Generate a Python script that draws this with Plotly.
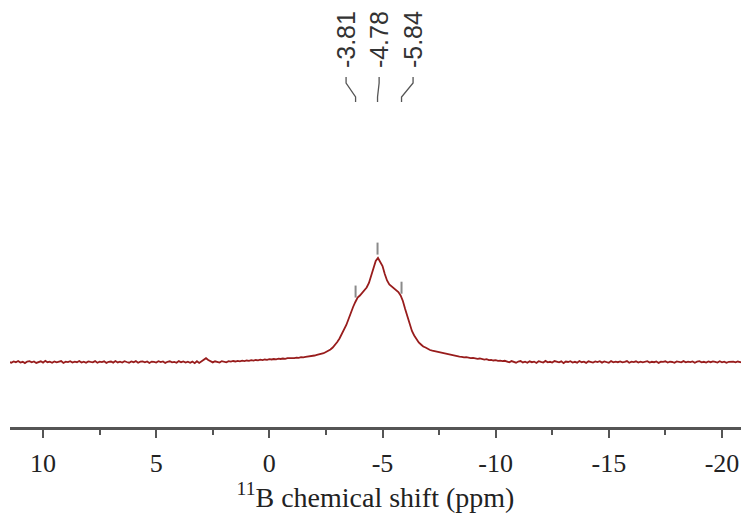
import numpy as np
import plotly.graph_objects as go

ppm_start = 11.5
ppm_step = -0.1
intensity = [
    0.3, -0.8, 0.6, -0.2, 1.0, -0.5, 0.2, -1.1, 0.4, 0.8,
    -0.3, 0.5, -0.9, 0.1, 0.7, -0.6, 1.1, -0.2, 0.3, -0.7,
    0.6, -0.4, 0.2, 0.9, -1.0, 0.3, -0.1, 0.8, -0.6, 0.4,
    -0.2, 1.0, -0.5, 0.3, -0.8, 0.6, 0.1, -0.3, 0.9, -0.7,
    0.4, -0.1, 0.7, -0.9, 0.2, 0.5, -0.6, 1.0, -0.4, 0.3,
    -0.5, 0.8, 0.0, -0.7, 0.6, -0.2, 0.9, -0.8, 0.3, 0.5,
    -0.3, 0.6, -1.0, 0.4, 0.2, -0.5, 0.8, -0.1, 0.6, -0.9,
    0.2, 0.7, -0.4, 0.1, -0.8, 0.9, -0.2, 0.5, -0.6, 0.3,
    -0.7, 0.4, -1.2, 0.8, -0.9, 0.6, 2.5, 3.8, 2.0, 0.5,
    -0.4, 0.7, 0.1, -0.6, 0.9, 0.2, -0.3, 0.8, 0.4, 1.0,
    0.5, 1.1, 0.6, 1.3, 0.9, 1.5, 1.2, 1.8, 1.4, 2.0,
    1.7, 2.3, 1.9, 2.5, 2.2, 2.8, 2.5, 3.0, 2.7, 3.3,
    3.0, 3.5, 3.2, 3.8, 3.6, 4.1, 3.9, 4.4, 4.2, 4.8,
    4.6, 5.2, 5.4, 5.9, 6.2, 6.5, 7.1, 7.6, 8.2, 8.8,
    10.0, 11.0, 12.5, 14.5, 17.0, 20.0, 23.5, 27.5, 32.0, 37.0,
    43.0, 49.5, 55.0, 60.0, 64.5, 66.5, 69.5, 72.0, 74.5, 79.0,
    86.0, 95.0, 101.0, 104.0, 100.0, 96.0, 88.0, 81.5, 77.5, 75.5,
    74.0, 72.5, 70.0, 66.5, 61.0, 53.0, 45.0, 37.0, 31.0, 26.5,
    23.0, 19.5, 17.5, 15.5, 14.5, 13.0, 12.0, 11.3, 10.8, 9.8,
    9.2, 8.8, 8.2, 7.9, 7.3, 7.0, 6.6, 6.1, 5.9, 5.4,
    5.2, 4.6, 4.9, 4.1, 3.8, 4.2, 3.4, 3.1, 3.5, 2.7,
    2.4, 2.8, 1.9, 2.2, 1.5, 1.9, 1.1, 1.4, 0.8, 1.2,
    0.6, -0.3, 0.9, 0.2, -0.7, 0.5, 1.0, -0.4, 0.3, -0.8,
    0.7, -0.2, 0.4, -1.0, 0.8, 0.1, -0.5, 1.1, -0.3, 0.2,
    -0.6, 0.9, 0.3, -0.4, 0.6, -1.1, 0.5, 0.0, 0.8, -0.5,
    0.2, -0.7, 1.0, -0.2, 0.4, -0.9, 0.7, 0.3, -0.5, 0.6,
    -0.1, 0.8, -0.6, 0.5, 0.1, -0.8, 0.9, -0.3, 0.4, -0.2,
    0.6, -0.4, 0.2, 0.9, -0.7, 0.3, -0.1, 0.7, -0.5, 0.4,
    -0.3, 0.5, 0.8, -0.6, 0.2, -0.2, 0.6, -0.9, 0.4, 0.1,
    0.7, -0.5, 0.3, 0.0, -0.8, 0.6, 0.2, -0.4, 0.9, -0.3,
    0.4, -0.1, 0.6, -0.7, 0.3, 0.8, -0.4, 0.2, -0.6, 0.5,
    -0.2, 0.6, 0.1, -0.5, 0.7, -0.3, 0.4, -0.8, 0.2, 0.6,
    0.3, -0.4, 0.5, 0.0, -0.6, 0.4, 0.2, -0.3, 0.5, -0.1,
]
ppm = np.round(ppm_start + ppm_step * np.arange(len(intensity)), 2)

peak_ppm = [-3.81, -4.78, -5.84]
peak_labels = ["-3.81", "-4.78", "-5.84"]
label_ppm = [-3.39, -4.85, -6.35]

tick_vals = [10, 5, 0, -5, -10, -15, -20]
tick_text = ["10", "5", "0", "-5", "-10", "-15", "-20"]

x_range = [11.46, -20.84]
y_range = [-65, 362]

fig = go.Figure()
fig.add_trace(go.Scatter(x=ppm, y=intensity, mode="lines",
                         line=dict(color="#981c1c", width=1.8),
                         hoverinfo="skip", showlegend=False))

# peak pick markers and connectors
ip = np.interp(peak_ppm, ppm[::-1], np.array(intensity)[::-1])
for p, lp, txt, h in zip(peak_ppm, label_ppm, peak_labels, ip):
    fig.add_trace(go.Scatter(x=[p, p], y=[h + 4, h + 16], mode="lines",
                             line=dict(color="#8a8a8a", width=2),
                             hoverinfo="skip", showlegend=False))
    fig.add_trace(go.Scatter(x=[lp, lp, p, p], y=[285, 279, 265, 260], mode="lines",
                             line=dict(color="#555555", width=1.3),
                             hoverinfo="skip", showlegend=False))
    fig.add_annotation(x=lp, y=322, xref="x", yref="y", text=txt, showarrow=False,
                       textangle=-90, xanchor="center", yanchor="middle",
                       font=dict(family="Liberation Sans", size=25, color="#333333"))

fig.update_layout(
    width=741, height=522,
    margin=dict(l=10, r=0, t=0, b=95),
    paper_bgcolor="white", plot_bgcolor="white",
    xaxis=dict(range=x_range, showgrid=False, zeroline=False,
               showline=True, linecolor="#555555", linewidth=3,
               ticks="outside", ticklen=8, tickwidth=2, tickcolor="#555555",
               tickmode="array", tickvals=tick_vals, ticktext=tick_text,
               ticklabelstandoff=3,
               minor=dict(dtick=2.5, tick0=0, ticks="outside", ticklen=5, tickwidth=2,
                          tickcolor="#555555", showgrid=False),
               tickfont=dict(family="Liberation Serif", size=26, color="#222222"),
               title=dict(text="<sup>11</sup>B chemical shift (ppm)",
                          font=dict(family="Liberation Serif", size=28, color="#222222"),
                          standoff=0)),
    yaxis=dict(range=y_range, visible=False, fixedrange=True),
)

fig.write_html("out.html", config={"displayModeBar": False},
               post_script="document.body.style.margin='0';")
